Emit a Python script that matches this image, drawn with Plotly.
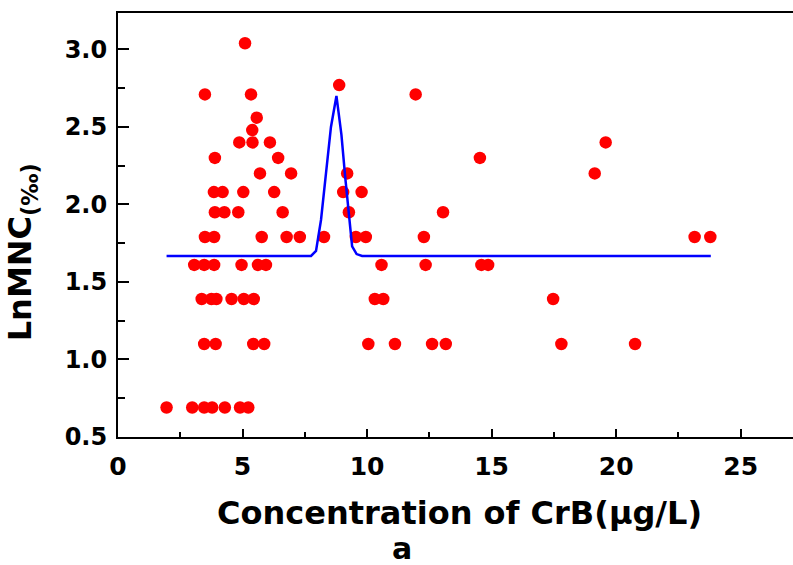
import plotly.graph_objects as go

# LnMNC levels (y) and the CrB concentrations (x) observed at each level
levels = [0.69, 1.10, 1.39, 1.61, 1.79, 1.95, 2.08, 2.20, 2.30, 2.40, 2.48, 2.56, 2.71, 2.77, 3.04]
conc_069 = [1.95, 2.98, 3.46, 3.78, 4.29, 4.90, 5.23]
conc_110 = [3.46, 3.92, 5.43, 5.87, 10.05, 11.12, 12.61, 13.16, 17.8, 20.76]
conc_139 = [3.36, 3.75, 3.95, 4.56, 5.05, 5.45, 10.31, 10.65, 17.47]
conc_161 = [3.06, 3.46, 3.86, 4.96, 5.62, 5.94, 10.58, 12.35, 14.59, 14.86]
conc_179 = [3.49, 3.86, 5.77, 6.77, 7.30, 8.27, 9.55, 9.95, 12.28, 23.15, 23.78]
conc_195 = [3.89, 4.27, 4.83, 6.61, 9.27, 13.05]
conc_208 = [3.85, 4.20, 5.03, 6.27, 9.04, 9.78]
conc_220 = [5.70, 6.95, 9.20, 19.14]
conc_230 = [3.89, 6.43, 14.53]
conc_240 = [4.87, 5.40, 6.10, 19.58]
conc_248 = [5.39]
conc_256 = [5.57]
conc_271 = [3.49, 5.34, 11.95]
conc_277 = [8.88]
conc_304 = [5.10]
conc_rows = [conc_069, conc_110, conc_139, conc_161, conc_179, conc_195, conc_208,
             conc_220, conc_230, conc_240, conc_248, conc_256, conc_271, conc_277, conc_304]

# fitted curve
fit_x = [1.95, 7.75, 7.95, 8.15, 8.35, 8.55, 8.77, 8.97, 9.12, 9.26, 9.40, 9.58, 9.80, 23.8]
fit_y = [1.668, 1.668, 1.70, 1.90, 2.20, 2.50, 2.70, 2.45, 2.18, 1.93, 1.73, 1.68, 1.668, 1.668]

x_ticks = [0, 5, 10, 15, 20, 25]
y_ticks = [0.5, 1.0, 1.5, 2.0, 2.5, 3.0]
y_tick_text = ["0.5", "1.0", "1.5", "2.0", "2.5", "3.0"]

pts_x, pts_y = [], []
for lv, row in zip(levels, conc_rows):
    for c in row:
        pts_x.append(c)
        pts_y.append(lv)

FONT = "DejaVu Sans, Liberation Sans, sans-serif"

fig = go.Figure()
fig.add_trace(go.Scatter(x=pts_x, y=pts_y, mode="markers",
                         marker=dict(color="#ff0000", size=12.5, line=dict(width=0)),
                         showlegend=False))
fig.add_trace(go.Scatter(x=fit_x, y=fit_y, mode="lines",
                         line=dict(color="#0000ff", width=2.5), showlegend=False))

fig.update_layout(
    width=793, height=565,
    margin=dict(l=118, r=0, t=13, b=128),
    paper_bgcolor="white", plot_bgcolor="white",
    font=dict(family=FONT, color="black"),
    xaxis=dict(range=[0, 27.1], tickvals=x_ticks, ticktext=[str(v) for v in x_ticks],
               showgrid=False, zeroline=False, showline=True, linecolor="black", linewidth=2,
               mirror=True, ticks="inside", ticklen=8, tickwidth=1.5, tickcolor="black",
               minor=dict(dtick=2.5, ticks="inside", ticklen=5, tickwidth=1.5, tickcolor="black", tick0=0),
               tickfont=dict(family=FONT, size=25, weight="bold"), ticklabelstandoff=6),
    yaxis=dict(range=[0.5, 3.235], tickvals=y_ticks, ticktext=y_tick_text,
               showgrid=False, zeroline=False, showline=True, linecolor="black", linewidth=2,
               mirror=False, ticks="inside", ticklen=11, tickwidth=1.5, tickcolor="black",
               minor=dict(dtick=0.25, ticks="inside", ticklen=7, tickwidth=1.5, tickcolor="black", tick0=0.5),
               tickfont=dict(family=FONT, size=24, weight="bold"), ticklabelstandoff=4),
    annotations=[
        dict(text="LnMNC<sub>(‰)</sub>", xref="paper", yref="paper", x=-0.142, y=0.436,
             xanchor="center", yanchor="middle", textangle=-90, showarrow=False,
             font=dict(family=FONT, size=32, weight="bold", color="black")),
        dict(text="Concentration of CrB(μg/L)", xref="paper", yref="paper", x=0.506, y=-0.179,
             xanchor="center", yanchor="middle", showarrow=False,
             font=dict(family=FONT, size=32, weight="bold", color="black")),
        dict(text="a", xref="paper", yref="paper", x=0.421, y=-0.262,
             xanchor="center", yanchor="middle", showarrow=False,
             font=dict(family=FONT, size=30, weight="bold", color="black")),
    ],
)

fig.write_html("out.html")
